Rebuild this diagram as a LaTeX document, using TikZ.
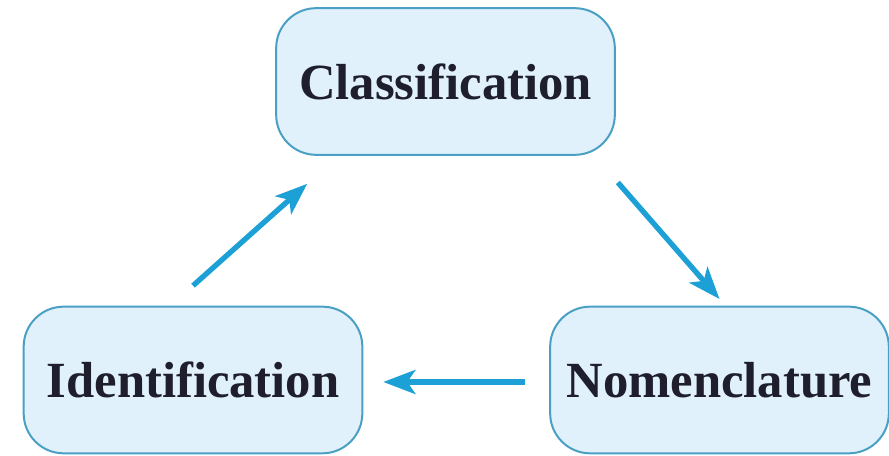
\documentclass[tikz,border=0pt]{standalone}
\usepackage{fontspec}
\setmainfont{Liberation Serif}
\usetikzlibrary{arrows.meta}
\definecolor{boxfill}{RGB}{224,241,251}
\definecolor{boxline}{RGB}{74,160,196}
\definecolor{flowcol}{RGB}{28,160,214}
\definecolor{textcol}{RGB}{30,30,45}
\begin{document}
\begin{tikzpicture}[x=0.75pt, y=0.75pt,
    stage/.style={rounded corners=30pt, draw=boxline, line width=1.5pt, fill=boxfill,
        minimum width=254pt, minimum height=110pt, text=textcol,
        font=\fontsize{38}{40}\selectfont\bfseries},
    flow/.style={draw=flowcol, line width=4pt, -{Stealth[length=24pt,width=18pt,inset=6pt]}}]
    \useasboundingbox (0,0) rectangle (889,456);
    \node[stage] (class) at (445.5,374.5) {Classification};
    \node[stage] (ident) at (193,76) {Identification};
    \node[stage] (nomen) at (719.5,76) {Nomenclature};
    \draw[flow] ([yshift=15pt]ident.north) -- ([xshift=24pt,yshift=-21pt]class.south west);
    \draw[flow] ([xshift=1.5pt,yshift=-20pt]class.south east) -- ([yshift=5pt]nomen.north);
    \draw[flow, shorten <=18pt, shorten >=15pt] ([yshift=-1.5pt]nomen.west) -- ([yshift=-1.5pt]ident.east);
\end{tikzpicture}
\end{document}
